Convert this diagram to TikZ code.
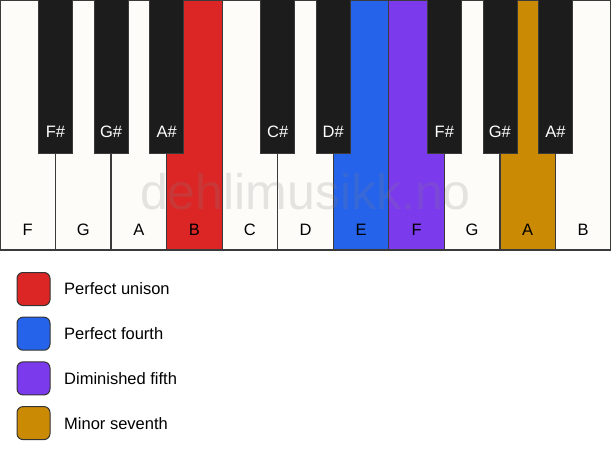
\documentclass[tikz,border=0pt]{standalone}
\usepackage{fontspec}
\setmainfont{Liberation Sans}
\definecolor{wkey}{HTML}{FDFCF9}
\definecolor{bkey}{HTML}{1C1C1C}
\definecolor{kline}{HTML}{3A3A3A}
\definecolor{cred}{HTML}{DC2626}
\definecolor{cblue}{HTML}{2563EB}
\definecolor{cpurple}{HTML}{7C3AED}
\definecolor{cgold}{HTML}{CA8A04}
\begin{document}
\begin{tikzpicture}[x=1pt,y=-1pt,
  whitekey/.style={draw=kline,line width=1.2pt,fill=wkey},
  blackkey/.style={draw=kline,line width=0.8pt,fill=bkey},
  wlabel/.style={font=\fontsize{16.5}{16.5}\selectfont,text=black},
  blabel/.style={font=\fontsize{16.5}{16.5}\selectfont,text=white},
  legbox/.style={draw=black!80,line width=1pt,rounded corners=6pt,minimum width=33pt,minimum height=33pt,inner sep=0pt},
  legtext/.style={font=\fontsize{16.5}{16.5}\selectfont,anchor=west,inner sep=0pt}]
\useasboundingbox (0,0) rectangle (611,461);
\fill[white] (0,0) rectangle (611,461);
% white keys
\def\kw{55.545}
\foreach \n/\c [count=\i from 0] in {F/wkey,G/wkey,A/wkey,B/cred,C/wkey,D/wkey,E/cblue,F/cpurple,G/wkey,A/cgold,B/wkey}{
  \draw[whitekey,fill=\c] (\i*\kw,0) rectangle ({(\i+1)*\kw},250);
  \node[wlabel] (w\i) at ({(\i+0.5)*\kw},230) {\n};
}
% watermark
\node[font=\fontsize{50}{50}\selectfont,text=gray,opacity=0.2] (wm) at (305.5,192) {dehlimusikk.no};
% black keys
\foreach \n/\b in {F\#/1,G\#/2,A\#/3,C\#/5,D\#/6,F\#/8,G\#/9,A\#/10}{
  \draw[blackkey] ({\b*\kw-17},-1) rectangle ({\b*\kw+17},153);
  \node[blabel] (b\b) at ({\b*\kw},132) {\n};
}
% legend
\foreach \c/\t [count=\j from 0] in {cred/Perfect unison,cblue/Perfect fourth,cpurple/Diminished fifth,cgold/Minor seventh}{
  \node[legbox,fill=\c] (l\j) at (33.5,{289+\j*44.7}) {};
  \node[legtext] (t\j) at (64,{289+\j*44.7}) {\t};
}
\end{tikzpicture}
\end{document}
